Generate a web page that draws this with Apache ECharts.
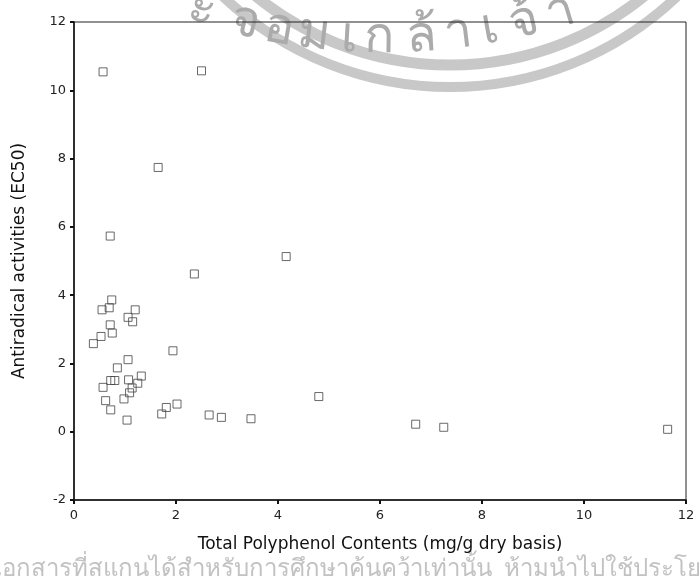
<!DOCTYPE html>
<html>
<head>
<meta charset="utf-8">
<script src="https://cdn.jsdelivr.net/npm/echarts@6/dist/echarts.min.js"></script>
<style>html,body{margin:0;padding:0;background:#fff;}#c{width:700px;height:578px;}</style>
</head>
<body>
<div id="c"></div>
<script>
// Data
var polyphenol = [0.57, 2.50, 1.65, 0.71, 4.16, 2.36, 0.74, 0.55, 0.69, 1.20, 1.06, 1.15, 0.71, 0.75, 0.53, 0.38, 1.06, 0.85, 1.32, 0.72, 0.80, 1.07, 1.25, 1.14, 0.57, 1.09, 0.98, 0.62, 0.72, 1.04, 1.94, 2.02, 1.81, 1.72, 2.65, 2.89, 3.47, 4.80, 6.70, 7.25, 11.64];
var ec50 = [10.54, 10.57, 7.74, 5.73, 5.13, 4.62, 3.86, 3.57, 3.63, 3.57, 3.35, 3.22, 3.13, 2.89, 2.79, 2.58, 2.11, 1.87, 1.63, 1.50, 1.50, 1.52, 1.42, 1.28, 1.30, 1.14, 0.96, 0.91, 0.64, 0.34, 2.37, 0.81, 0.71, 0.52, 0.49, 0.42, 0.38, 1.03, 0.22, 0.13, 0.07];
var xTicks = [0, 2, 4, 6, 8, 10, 12];
var yTicks = [-2, 0, 2, 4, 6, 8, 10, 12];
var xTitle = 'Total Polyphenol Contents (mg/g dry basis)';
var yTitle = 'Antiradical activities (EC50)';
var watermarkArc = ['ะ', 'จ', 'อ', 'ม', 'เ', 'ก', 'ล้', 'า', 'เ', 'จ้', 'า'];
var watermarkLine = 'เอกสารที่สแกนได้สำหรับการศึกษาค้นคว้าเท่านั้น  ห้ามนำไปใช้ประโยชน์ในเชิงพาณิชย์  ไม่อนุญาตให้เผยแพร่';

var points = polyphenol.map(function (x, i) { return [x, ec50[i]]; });

// watermark (decorative seal) graphics
var bcx = 450, bcy = -243;
var graphics = [
  { type: 'circle', shape: { cx: bcx, cy: bcy, r: 308 }, style: { fill: 'none', stroke: '#c8c8c8', lineWidth: 11 }, z: -10, silent: true },
  { type: 'circle', shape: { cx: bcx, cy: bcy, r: 330 }, style: { fill: 'none', stroke: '#c8c8c8', lineWidth: 10 }, z: -10, silent: true }
];
var tcx = 385, tcy = -562, tR = 600;
var glyphX = [202, 245, 279, 314, 349, 379, 422, 458, 490, 524, 560];
watermarkArc.forEach(function (ch, i) {
  var a = Math.asin((glyphX[i] - tcx) / tR);
  var px = tcx + tR * Math.sin(a);
  var py = tcy + tR * Math.cos(a);
  graphics.push({
    type: 'text', x: px, y: py, rotation: a, silent: true, z: -9,
    style: { text: ch, fill: '#ababab', font: '50px "Noto Sans", "DejaVu Sans", sans-serif', align: 'center', verticalAlign: 'middle' }
  });
});
graphics.push({
  type: 'text', left: -6, top: 557, silent: true, z: -9,
  style: { text: watermarkLine, fill: '#c2c2c2', font: '24px "Noto Sans", "DejaVu Sans", sans-serif' }
});

var chart = echarts.init(document.getElementById('c'), null, { renderer: 'canvas' });
chart.setOption({
  backgroundColor: '#ffffff',
  animation: false,
  graphic: graphics,
  grid: { left: 74, right: 14, top: 22, bottom: 78, show: true, borderColor: '#222', borderWidth: 1, backgroundColor: 'transparent' },
  xAxis: {
    type: 'value', min: xTicks[0], max: xTicks[xTicks.length - 1], interval: 2,
    name: xTitle, nameLocation: 'middle', nameGap: 36,
    nameTextStyle: { fontFamily: 'DejaVu Sans', fontSize: 17, color: '#111' },
    axisLine: { show: true, onZero: false, lineStyle: { color: '#111', width: 1.5 } },
    axisTick: { show: true, inside: false, length: 4, lineStyle: { color: '#111', width: 2 } },
    axisLabel: { fontFamily: 'DejaVu Sans', fontSize: 13, color: '#222', margin: 9 },
    splitLine: { show: false }
  },
  yAxis: {
    type: 'value', min: yTicks[0], max: yTicks[yTicks.length - 1], interval: 2,
    name: yTitle, nameLocation: 'middle', nameGap: 46,
    nameTextStyle: { fontFamily: 'DejaVu Sans', fontSize: 17, color: '#111' },
    axisLine: { show: true, onZero: false, lineStyle: { color: '#111', width: 1.5 } },
    axisTick: { show: true, inside: false, length: 4, lineStyle: { color: '#111', width: 2 } },
    axisLabel: { fontFamily: 'DejaVu Sans', fontSize: 13, color: '#222', margin: 8 },
    splitLine: { show: false }
  },
  series: [{
    type: 'scatter',
    data: points,
    symbol: 'rect',
    symbolSize: 8,
    itemStyle: { color: 'rgba(0,0,0,0)', borderColor: '#444', borderWidth: 1 },
    emphasis: { disabled: true }
  }]
});
</script>
</body>
</html>
